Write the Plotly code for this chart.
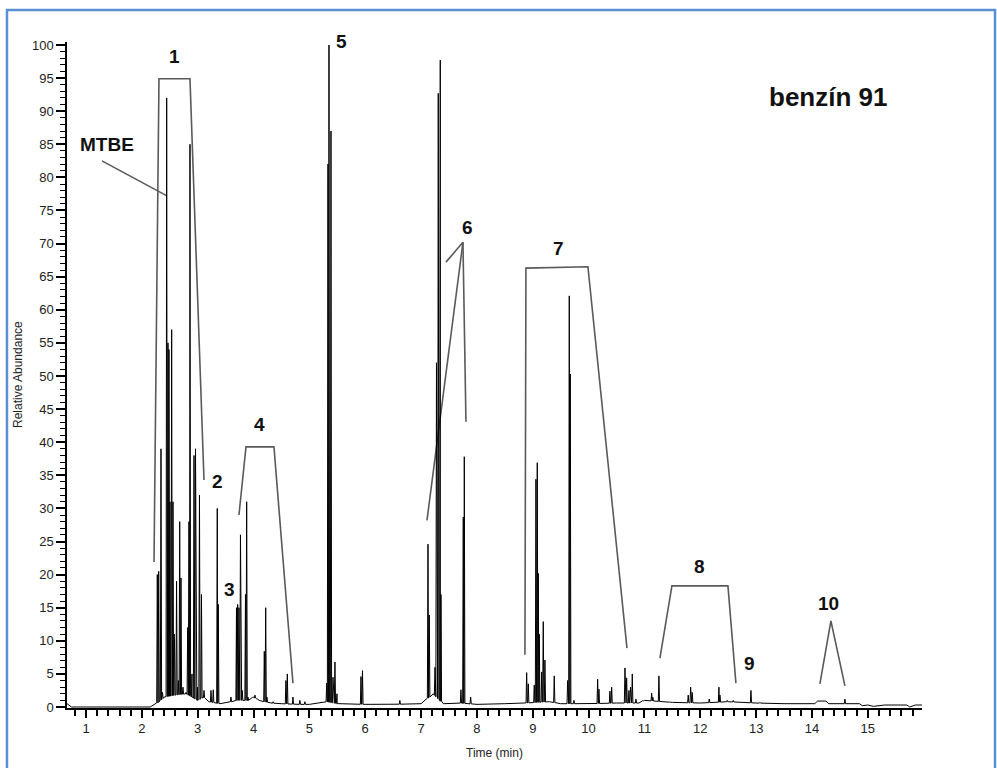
import numpy as np
import plotly.graph_objects as go

# ---------------- data ----------------
# baseline knots: retention time (min) and relative abundance
base_t = [0.66, 0.70, 0.74, 2.15, 2.22, 2.26, 2.40, 2.60, 2.80, 2.90, 3.00, 3.10, 3.20,
          3.40, 3.60, 3.70, 3.90, 4.00, 4.10, 4.30, 4.50, 4.80, 5.00, 5.30, 5.50, 6.00,
          6.50, 7.00, 7.22, 7.40, 7.70, 8.00, 8.50, 8.85, 9.30, 9.50, 10.00, 10.50, 10.90,
          11.00, 11.50, 12.00, 12.50, 13.00, 13.50, 14.05, 14.10, 14.25, 14.30, 14.85,
          14.90, 15.00, 15.10, 15.30, 15.70, 15.75, 15.85, 15.97]
base_y = [0.5, 0.3, 0.0, 0.0, 0.4, 0.5, 1.5, 1.8, 2.0, 1.5, 1.0, 1.5, 0.8,
          0.5, 0.8, 1.0, 1.0, 1.5, 1.0, 0.6, 0.5, 0.4, 0.4, 0.8, 0.5, 0.4,
          0.4, 0.5, 2.0, 0.5, 0.6, 0.4, 0.5, 0.6, 0.8, 0.5, 0.5, 0.6, 0.6,
          1.0, 0.7, 0.6, 0.8, 0.6, 0.5, 0.5, 0.9, 0.9, 0.5, 0.5,
          0.2, 0.3, 0.1, 0.3, 0.3, 0.0, 0.3, 0.3]

# peaks: retention time (min) and apex height (relative abundance)
peak_t = [2.277, 2.302, 2.343, 2.370, 2.445, 2.468, 2.486, 2.504, 2.534, 2.558, 2.585,
          2.622, 2.653, 2.678, 2.701, 2.737, 2.790, 2.821, 2.844, 2.862, 2.898, 2.934,
          2.961, 2.996, 3.032, 3.068, 3.113, 3.238, 3.279, 3.351, 3.369,
          3.596, 3.695, 3.716, 3.739, 3.766, 3.798, 3.856, 3.877, 3.900, 3.990, 4.026,
          4.060, 4.193, 4.218, 4.240, 4.350, 4.580, 4.605, 4.706, 4.830, 4.920,
          5.310, 5.333, 5.351, 5.387, 5.423, 5.458, 5.494, 5.924, 5.951, 6.620,
          7.124, 7.147, 7.249, 7.276, 7.308, 7.344, 7.356, 7.714, 7.756, 7.774, 7.888,
          8.891, 8.920, 9.027, 9.057, 9.081, 9.099, 9.117, 9.160, 9.188, 9.218, 9.385,
          9.625, 9.654, 9.672, 9.738, 10.162, 10.185, 10.382, 10.413, 10.651, 10.681,
          10.722, 10.750, 10.782, 10.848, 10.973, 11.129, 11.150, 11.259, 11.456,
          11.784, 11.827, 11.856, 12.160, 12.334, 12.352, 12.482, 12.590, 12.907,
          13.068, 14.590]
peak_h = [20, 20.5, 39, 2.2, 92, 55, 54, 31, 57, 31, 11,
          19, 4, 28, 19.5, 3, 2.2, 12, 28, 85, 5, 38,
          39, 3, 32, 17, 2.5, 2.5, 2.6, 30, 15.5,
          1.5, 15, 15.5, 15, 26, 2.5, 17, 31, 1.5, 1.5, 1.8,
          1.2, 8.4, 15, 1.5, 0.8, 4, 5, 1.5, 1.0, 0.8,
          3.6, 82, 100, 87, 4.5, 6.8, 2, 4.6, 5.5, 1.0,
          24.6, 13.9, 6, 52, 92.7, 97.7, 17, 2.6, 28.7, 37.8, 1.5,
          5.2, 3.5, 3.3, 34.4, 36.9, 20.2, 11, 5.3, 12.9, 7.1, 4.7,
          4, 62.1, 50.3, 1, 4.2, 2.7, 2.4, 3.0, 5.9, 4.4,
          2.5, 3.0, 5.0, 1.2, 1.0, 2.1, 1.5, 4.7, 0.8,
          1.8, 3.0, 2.2, 1.2, 3.0, 1.8, 1.0, 1.0, 2.5,
          0.7, 1.2]

# labels: text, time, abundance
label_text = ["1", "MTBE", "2", "3", "4", "5", "6", "7", "8", "9", "10"]
label_t = [2.576, 1.376, 3.346, 3.578, 4.115, 5.584, 7.840, 9.469, 11.994, 12.889, 14.304]
label_y = [98.2, 85.0, 34.1, 17.8, 42.7, 100.4, 72.4, 69.3, 21.3, 6.5, 15.6]

# bracket / leader polylines (time, abundance)
brackets = [
    ([2.218, 2.307, 2.862, 3.113], [21.9, 94.9, 94.9, 34.3]),      # 1
    ([1.286, 2.450], [82.5, 77.2]),                                # MTBE leader
    ([3.739, 3.865, 4.366, 4.706], [29.0, 39.3, 39.3, 3.6]),       # 4
    ([7.446, 7.750, 7.106], [67.2, 70.2, 28.2]),                   # 6 (left)
    ([7.750, 7.804], [70.2, 43.1]),                                # 6 (right)
    ([8.860, 8.878, 9.988, 10.687], [7.9, 66.3, 66.5, 8.9]),       # 7
    ([11.277, 11.492, 12.495, 12.638], [7.4, 18.3, 18.3, 3.6]),    # 8
    ([14.142, 14.339, 14.590], [3.5, 13.0, 3.2]),                  # 10
]

# ---------------- build the trace ----------------
hw = 0.011
pts = list(zip(base_t, base_y))
for t, h in zip(peak_t, peak_h):
    b = float(np.interp(t, base_t, base_y))
    pts += [(t - hw, b), (t, h), (t + hw, b)]
pts.sort(key=lambda p: p[0])
tr_t = [p[0] for p in pts]
tr_y = [p[1] for p in pts]

FONT = "Liberation Sans, Arial, sans-serif"

fig = go.Figure()
for bx, by in brackets:
    fig.add_trace(go.Scatter(x=bx, y=by, mode="lines",
                             line=dict(color="#5a5a5a", width=1.6),
                             hoverinfo="skip", showlegend=False, cliponaxis=False))
fig.add_trace(go.Scatter(x=tr_t, y=tr_y, mode="lines",
                         line=dict(color="black", width=1),
                         showlegend=False, cliponaxis=False))

for txt, x, y in zip(label_text, label_t, label_y):
    fig.add_annotation(x=x, y=y, xref="x", yref="y", text="<b>%s</b>" % txt,
                       showarrow=False, yshift=(1 if txt == "5" else 0),
                       xanchor="center", yanchor="middle",
                       font=dict(family=FONT, size=19, color="#111"))

fig.add_annotation(x=14.286, y=92.1, xref="x", yref="y", text="<b>benzín 91</b>",
                   showarrow=False, xanchor="center", yanchor="middle",
                   font=dict(family=FONT, size=26, color="#111"))

# axis titles
fig.add_annotation(x=0.5, y=-0.0676, xref="paper", yref="paper", text="Time (min)",
                   showarrow=False, xanchor="center", yanchor="middle",
                   font=dict(family=FONT, size=12, color="#222"))
fig.add_annotation(x=-0.0573, y=0.5, xref="paper", yref="paper", text="Relative Abundance",
                   textangle=-90, showarrow=False, xanchor="center", yanchor="middle",
                   font=dict(family=FONT, size=12, color="#222"))

# blue frame around the figure
fig.add_shape(type="rect", xref="paper", yref="paper",
              x0=-0.0702, x1=1.0854, y0=-0.11, y1=1.048,
              line=dict(color="#5b8fd4", width=2.5), fillcolor="rgba(0,0,0,0)")

fig.update_layout(
    width=997, height=768,
    margin=dict(l=67, r=75, t=42, b=60),
    paper_bgcolor="white", plot_bgcolor="white",
    font=dict(family=FONT, size=13, color="#222"),
    xaxis=dict(range=[0.66, 15.97], tickmode="linear", tick0=0, dtick=1,
               ticks="outside", ticklen=8, tickwidth=1.5, tickcolor="black",
               showline=True, linecolor="black", linewidth=1.5,
               showgrid=False, zeroline=False,
               minor=dict(ticks="outside", dtick=0.2, tick0=0, ticklen=6,
                          tickwidth=1.5, tickcolor="black", showgrid=False),
               tickfont=dict(family=FONT, size=13, color="#222")),
    yaxis=dict(range=[-0.15, 100.45], tickmode="linear", tick0=0, dtick=5,
               ticks="outside", ticklen=9, tickwidth=1.5, tickcolor="black",
               showline=True, linecolor="black", linewidth=1.5,
               showgrid=False, zeroline=False,
               minor=dict(ticks="outside", dtick=1, tick0=0, ticklen=5,
                          tickwidth=1, tickcolor="black", showgrid=False),
               tickfont=dict(family=FONT, size=13, color="#222")),
)

fig.write_html("out.html", config={"displayModeBar": False},
               post_script="document.body.style.margin='0';")
